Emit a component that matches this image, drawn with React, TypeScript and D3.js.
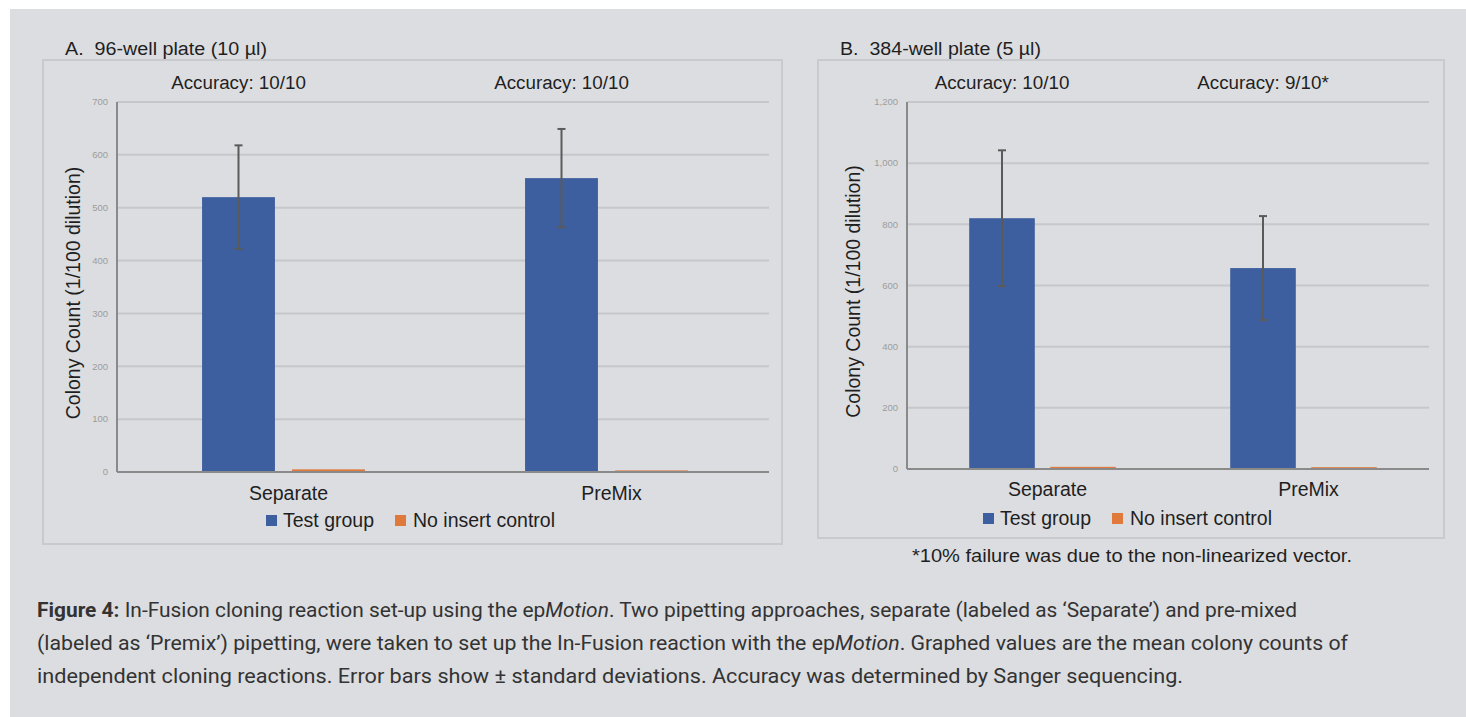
import React from "react";
import * as d3 from "d3";

const categories = ["Separate", "PreMix"];
const seriesNames = ["Test group", "No insert control"];
const seriesColors = ["#3e5f9f", "#df7a3c"];

const aTest = [520, 556];
const aTestSd = [98, 93];
const aCtrl = [5, 3];
const aTicks = [0, 100, 200, 300, 400, 500, 600, 700];
const aAccuracy = ["Accuracy: 10/10", "Accuracy: 10/10"];

const bTest = [820, 657];
const bTestSd = [222, 170];
const bCtrl = [7, 6];
const bTicks = [0, 200, 400, 600, 800, 1000, 1200];
const bAccuracy = ["Accuracy: 10/10", "Accuracy: 9/10*"];

const W = 1466;
const H = 717;
const FONT = "'Liberation Sans', Arial, sans-serif";
const TXT = "#1f1f1f";

type PanelProps = {
  title: string;
  titleLen: number;
  box: [number, number, number, number];
  axisX: [number, number];
  bandRange: [number, number];
  yRange: [number, number];
  yMax: number;
  ticks: number[];
  test: number[];
  sd: number[];
  ctrl: number[];
  accuracy: string[];
  barStep: number;
  legendX: number;
  legendY: number;
  catY: number;
  ylabelX: number;
};

function Panel(p: PanelProps) {
  const [bx, by, bw, bh] = p.box;
  const x0 = d3.scaleBand<string>().domain(categories).range(p.bandRange).padding(0);
  const bandW = x0.bandwidth();
  const pi = 0.19;
  const po = (bandW / p.barStep - 2 + pi) / 2;
  const x1 = d3
    .scaleBand<string>()
    .domain(seriesNames)
    .range([0, bandW])
    .paddingInner(pi)
    .paddingOuter(po);
  const y = d3.scaleLinear().domain([0, p.yMax]).range(p.yRange);
  const fmt = d3.format(",");
  const values = [p.test, p.ctrl];
  const ymid = (p.yRange[0] + p.yRange[1]) / 2 + 6;
  return (
    <g>
      <text
        x={bx + 22}
        y={by - 5}
        fontFamily={FONT}
        fontSize={18}
        fill={TXT}
        style={{ whiteSpace: "pre" }}
        textLength={p.titleLen}
        lengthAdjust="spacingAndGlyphs"
      >
        {p.title}
      </text>
      <rect x={bx} y={by} width={bw} height={bh} fill="none" stroke="#c9cacd" strokeWidth={2} />
      {p.ticks.map((t) => (
        <g key={t}>
          {t > 0 && (
            <line x1={p.axisX[0]} x2={p.axisX[1]} y1={y(t)} y2={y(t)} stroke="#c6c7ca" strokeWidth={2} />
          )}
          <text
            x={p.axisX[0] - 9}
            y={y(t)}
            dy="0.35em"
            textAnchor="end"
            fontFamily={FONT}
            fontSize={9.5}
            fill="#9c9c9c"
          >
            {fmt(t)}
          </text>
        </g>
      ))}
      <line x1={p.axisX[0]} x2={p.axisX[0]} y1={p.yRange[1]} y2={p.yRange[0]} stroke="#8a8a8a" strokeWidth={2} />
      <line x1={p.axisX[0]} x2={p.axisX[1]} y1={p.yRange[0]} y2={p.yRange[0]} stroke="#8a8a8a" strokeWidth={2} />
      {categories.map((c, i) => (
        <g key={c}>
          {seriesNames.map((s, k) => {
            const bx0 = (x0(c) as number) + (x1(s) as number);
            const v = values[k][i];
            return (
              <rect
                key={s}
                x={bx0}
                y={y(v)}
                width={x1.bandwidth()}
                height={p.yRange[0] - y(v) - 1}
                fill={seriesColors[k]}
              />
            );
          })}
          {(() => {
            const cx = (x0(c) as number) + (x1(seriesNames[0]) as number) + x1.bandwidth() / 2;
            const top = y(p.test[i] + p.sd[i]);
            const bot = y(p.test[i] - p.sd[i]);
            return (
              <g stroke="#5a5a5a" strokeWidth={2}>
                <line x1={cx} x2={cx} y1={top} y2={bot} />
                <line x1={cx - 4} x2={cx + 4} y1={top} y2={top} />
                <line x1={cx - 4} x2={cx + 4} y1={bot} y2={bot} />
              </g>
            );
          })()}
          <text
            x={(x0(c) as number) + (x1(seriesNames[0]) as number) + x1.bandwidth() / 2}
            y={by + 29}
            textAnchor="middle"
            fontFamily={FONT}
            fontSize={18.8}
            fill={TXT}
          >
            {p.accuracy[i]}
          </text>
          <text
            x={(x0(c) as number) + bandW / 2 + 5}
            y={p.catY}
            textAnchor="middle"
            fontFamily={FONT}
            fontSize={19.5}
            fill={TXT}
          >
            {c}
          </text>
        </g>
      ))}
      <text
        transform={`translate(${p.ylabelX},${ymid}) rotate(-90)`}
        textAnchor="middle"
        fontFamily={FONT}
        fontSize={19.5}
        fill={TXT}
      >
        Colony Count (1/100 dilution)
      </text>
      <g>
        <rect x={p.legendX} y={p.legendY - 12} width={11} height={11} fill={seriesColors[0]} />
        <text x={p.legendX + 17} y={p.legendY} fontFamily={FONT} fontSize={19.5} fill={TXT}>
          {seriesNames[0]}
        </text>
        <rect x={p.legendX + 129} y={p.legendY - 12} width={11} height={11} fill={seriesColors[1]} />
        <text x={p.legendX + 147} y={p.legendY} fontFamily={FONT} fontSize={19.5} fill={TXT}>
          {seriesNames[1]}
        </text>
      </g>
    </g>
  );
}

export default function App() {
  const capFont = "Roboto, 'Noto Sans', sans-serif";
  return (
    <svg
      width={W}
      height={H}
      style={{ position: "absolute", left: 0, top: 0, display: "block" }}
    >
      <rect x={0} y={0} width={W} height={H} fill="#ffffff" />
      <rect x={10} y={9} width={W - 10} height={H - 9} fill="#dcdde0" />
      <Panel
        title="A.  96-well plate (10 µl)"
        titleLen={202}
        box={[43, 60, 739, 484]}
        axisX={[117, 769]}
        bandRange={[122, 768]}
        yRange={[472, 102]}
        yMax={700}
        ticks={aTicks}
        test={aTest}
        sd={aTestSd}
        ctrl={aCtrl}
        accuracy={aAccuracy}
        barStep={90}
        legendX={266}
        legendY={527}
        catY={500}
        ylabelX={80}
      />
      <Panel
        title="B.  384-well plate (5 µl)"
        titleLen={201}
        box={[818, 60, 626, 478]}
        axisX={[907, 1429]}
        bandRange={[912, 1434]}
        yRange={[469, 102]}
        yMax={1200}
        ticks={bTicks}
        test={bTest}
        sd={bTestSd}
        ctrl={bCtrl}
        accuracy={bAccuracy}
        barStep={81}
        legendX={983}
        legendY={525}
        catY={496}
        ylabelX={860}
      />
      <text x={1132} y={562} textAnchor="middle" fontFamily={FONT} fontSize={17.5} fill={TXT} textLength={440} lengthAdjust="spacingAndGlyphs">
        *10% failure was due to the non-linearized vector.
      </text>
      <g fontFamily={capFont} fontSize={19.5} fill="#333333">
        <text x={37} y={617} textLength={1260} lengthAdjust="spacingAndGlyphs">
          <tspan fontWeight="bold">Figure 4:</tspan> In-Fusion cloning reaction set-up using the ep
          <tspan fontStyle="italic">Motion</tspan>. Two pipetting approaches, separate (labeled as ‘Separate’) and pre-mixed
        </text>
        <text x={37} y={650} textLength={1311} lengthAdjust="spacingAndGlyphs">
          (labeled as ‘Premix’) pipetting, were taken to set up the In-Fusion reaction with the ep
          <tspan fontStyle="italic">Motion</tspan>. Graphed values are the mean colony counts of
        </text>
        <text x={37} y={683} textLength={1146} lengthAdjust="spacingAndGlyphs">
          independent cloning reactions. Error bars show ± standard deviations. Accuracy was determined by Sanger sequencing.
        </text>
      </g>
    </svg>
  );
}
